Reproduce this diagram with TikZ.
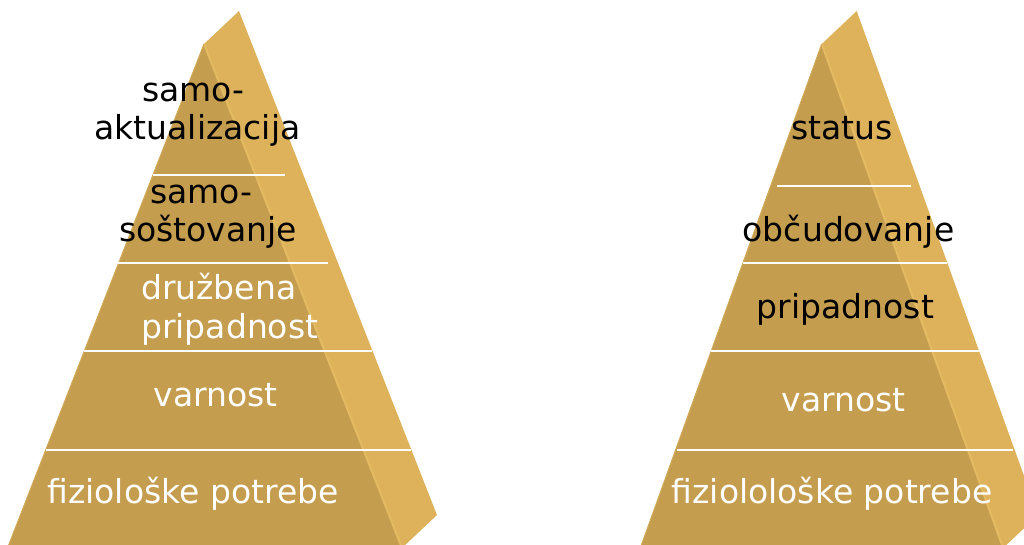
\documentclass[tikz,border=0pt]{standalone}
\usepackage{fontspec}
\setmainfont{DejaVu Sans}
\definecolor{frontcol}{HTML}{C49D4F}
\definecolor{sidecol}{HTML}{DDB25B}
\definecolor{ridgecol}{HTML}{E4BB63}
\definecolor{edgecol}{HTML}{D2A958}
\tikzset{
  frontface/.style={fill=frontcol, draw=none},
  sideface/.style={fill=sidecol, draw=none},
  ridge/.style={draw=ridgecol, line width=2pt},
  leftedge/.style={draw=edgecol, line width=1pt},
  sepline/.style={draw=white, line width=2pt},
  lbl/.style={anchor=base, inner sep=0pt, font=\fontsize{33}{38}\selectfont},
  dark/.style={lbl, text=black},
  light/.style={lbl, text=white}
}
\begin{document}
\begin{tikzpicture}[x=1pt,y=-1pt]
\useasboundingbox (0,0) rectangle (1024,544);
\clip (0,0) rectangle (1024,544);
% ---------- left pyramid ----------
\coordinate (LA) at (204,44);
\coordinate (LB) at (239,11);
\coordinate (LR) at (437,515);
\coordinate (LF) at (402,548);
\coordinate (LL) at (7.5,548);
\fill[sideface] (LA) -- (LB) -- (LR) -- (LF) -- cycle;
\fill[frontface] (LA) -- (LF) -- (LL) -- cycle;
\draw[ridge] (LA) -- (LF);
\draw[leftedge] (LA) -- (LL);
\draw[sepline] (153,175) -- (285,175);
\draw[sepline] (118,263) -- (328,263);
\draw[sepline] (84,351) -- (372,351);
\draw[sepline] (46,450) -- (411,450);
\node[dark] (l1a) at (193.5,101) {samo-};
\node[dark] (l1b) at (197.5,139) {aktualizacija};
\node[dark] (l2a) at (201.5,203) {samo-};
\node[dark] (l2b) at (208,241) {soštovanje};
\node[light, anchor=base west] (l3a) at (141,299) {družbena};
\node[light, anchor=base west] (l3b) at (141,338) {pripadnost};
\node[light] (l4) at (215.5,406) {varnost};
\node[light] (l5) at (193,503) {fiziološke potrebe};
% ---------- right pyramid ----------
\coordinate (RA) at (821.7,44);
\coordinate (RB) at (856.7,11);
\coordinate (RR) at (1038.1,515);
\coordinate (RF) at (1003.1,548);
\coordinate (RL) at (640.3,548);
\fill[sideface] (RA) -- (RB) -- (RR) -- (RF) -- cycle;
\fill[frontface] (RA) -- (RF) -- (RL) -- cycle;
\draw[ridge] (RA) -- (RF);
\draw[leftedge] (RA) -- (RL);
\draw[sepline] (777,186) -- (911,186);
\draw[sepline] (743,263) -- (947,263);
\draw[sepline] (711,351) -- (979,351);
\draw[sepline] (677,450) -- (1013,450);
\node[dark] (r1) at (842,139) {status};
\node[dark] (r2) at (848.5,241.7) {občudovanje};
\node[dark] (r3) at (845.5,318) {pripadnost};
\node[light] (r4) at (843.5,411.5) {varnost};
\node[light] (r5) at (832,503) {fiziolološke potrebe};
\end{tikzpicture}
\end{document}
